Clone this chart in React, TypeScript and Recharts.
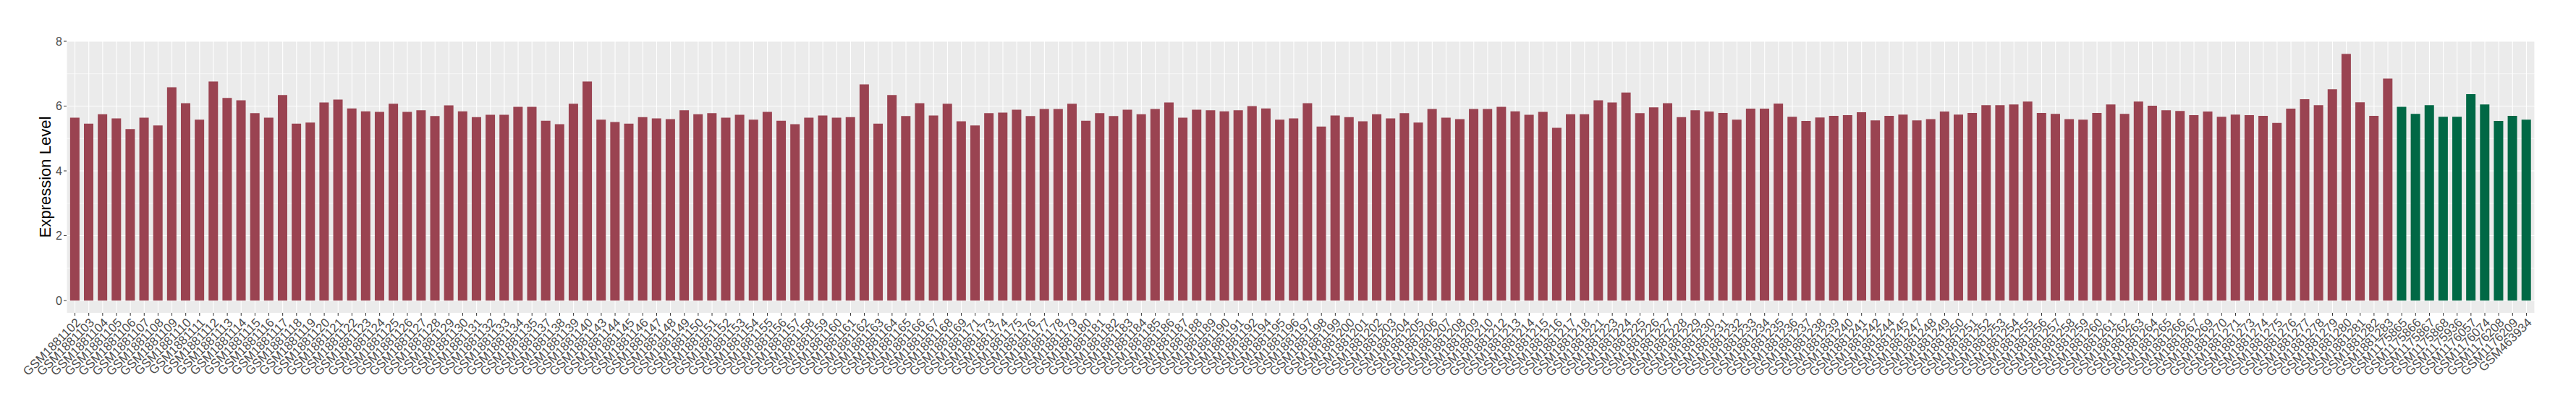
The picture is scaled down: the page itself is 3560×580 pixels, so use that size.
import React from "react";
import { Bar, BarChart, CartesianGrid, Cell, Label, XAxis, YAxis } from "recharts";

const tumourSamples = [
  "GSM1881102", "GSM1881103", "GSM1881104", "GSM1881105", "GSM1881106", "GSM1881107", "GSM1881108", "GSM1881109",
  "GSM1881110", "GSM1881111", "GSM1881112", "GSM1881113", "GSM1881114", "GSM1881115", "GSM1881116", "GSM1881117",
  "GSM1881118", "GSM1881119", "GSM1881120", "GSM1881121", "GSM1881122", "GSM1881123", "GSM1881124", "GSM1881125",
  "GSM1881126", "GSM1881127", "GSM1881128", "GSM1881129", "GSM1881130", "GSM1881131", "GSM1881132", "GSM1881133",
  "GSM1881134", "GSM1881135", "GSM1881137", "GSM1881138", "GSM1881139", "GSM1881140", "GSM1881143", "GSM1881144",
  "GSM1881145", "GSM1881146", "GSM1881147", "GSM1881148", "GSM1881149", "GSM1881150", "GSM1881151", "GSM1881152",
  "GSM1881153", "GSM1881154", "GSM1881155", "GSM1881156", "GSM1881157", "GSM1881158", "GSM1881159", "GSM1881160",
  "GSM1881161", "GSM1881162", "GSM1881163", "GSM1881164", "GSM1881165", "GSM1881166", "GSM1881167", "GSM1881168",
  "GSM1881169", "GSM1881171", "GSM1881173", "GSM1881174", "GSM1881175", "GSM1881176", "GSM1881177", "GSM1881178",
  "GSM1881179", "GSM1881180", "GSM1881181", "GSM1881182", "GSM1881183", "GSM1881184", "GSM1881185", "GSM1881186",
  "GSM1881187", "GSM1881188", "GSM1881189", "GSM1881190", "GSM1881191", "GSM1881192", "GSM1881194", "GSM1881195",
  "GSM1881196", "GSM1881197", "GSM1881198", "GSM1881199", "GSM1881200", "GSM1881201", "GSM1881202", "GSM1881203",
  "GSM1881204", "GSM1881205", "GSM1881206", "GSM1881207", "GSM1881208", "GSM1881209", "GSM1881210", "GSM1881212",
  "GSM1881213", "GSM1881214", "GSM1881215", "GSM1881216", "GSM1881217", "GSM1881218", "GSM1881221", "GSM1881223",
  "GSM1881224", "GSM1881225", "GSM1881226", "GSM1881227", "GSM1881228", "GSM1881229", "GSM1881230", "GSM1881231",
  "GSM1881232", "GSM1881233", "GSM1881234", "GSM1881235", "GSM1881236", "GSM1881237", "GSM1881238", "GSM1881239",
  "GSM1881240", "GSM1881241", "GSM1881242", "GSM1881244", "GSM1881245", "GSM1881247", "GSM1881248", "GSM1881249",
  "GSM1881250", "GSM1881251", "GSM1881252", "GSM1881253", "GSM1881254", "GSM1881255", "GSM1881256", "GSM1881257",
  "GSM1881258", "GSM1881259", "GSM1881260", "GSM1881261", "GSM1881262", "GSM1881263", "GSM1881264", "GSM1881265",
  "GSM1881266", "GSM1881267", "GSM1881269", "GSM1881270", "GSM1881271", "GSM1881273", "GSM1881274", "GSM1881275",
  "GSM1881276", "GSM1881277", "GSM1881278", "GSM1881279", "GSM1881280", "GSM1881281", "GSM1881282", "GSM1881283",
];

const tumourValues = [
  5.64, 5.46, 5.75, 5.62, 5.29, 5.64, 5.4, 6.58, 6.09, 5.58, 6.76, 6.25, 6.18, 5.78, 5.64, 6.34,
  5.46, 5.49, 6.11, 6.2, 5.93, 5.84, 5.82, 6.07, 5.82, 5.87, 5.69, 6.02, 5.84, 5.66, 5.73, 5.73,
  5.98, 5.98, 5.55, 5.44, 6.07, 6.76, 5.58, 5.51, 5.46, 5.66, 5.62, 5.6, 5.87, 5.75, 5.78, 5.64,
  5.73, 5.58, 5.82, 5.55, 5.44, 5.64, 5.71, 5.64, 5.66, 6.67, 5.46, 6.34, 5.69, 6.09, 5.71, 6.07,
  5.53, 5.4, 5.78, 5.8, 5.89, 5.69, 5.91, 5.91, 6.07, 5.55, 5.78, 5.69, 5.89, 5.75, 5.91, 6.11,
  5.64, 5.89, 5.87, 5.84, 5.87, 6.0, 5.93, 5.58, 5.62, 6.09, 5.37, 5.71, 5.66, 5.53, 5.75, 5.62,
  5.78, 5.49, 5.91, 5.64, 5.6, 5.91, 5.91, 5.98, 5.84, 5.73, 5.82, 5.33, 5.75, 5.75, 6.18, 6.11,
  6.42, 5.78, 5.96, 6.09, 5.66, 5.87, 5.83, 5.79, 5.58, 5.92, 5.92, 6.08, 5.67, 5.54, 5.65, 5.7,
  5.72, 5.81, 5.56, 5.7, 5.74, 5.56, 5.6, 5.83, 5.74, 5.79, 6.03, 6.03, 6.05, 6.14, 5.79, 5.76,
  5.6, 5.58, 5.79, 6.05, 5.76, 6.14, 6.01, 5.87, 5.85, 5.72, 5.83, 5.67, 5.74, 5.72, 5.7, 5.48,
  5.92, 6.21, 6.03, 6.52, 7.61, 6.12, 5.7, 6.85,
];

const normalSamples = [
  "GSM1175865", "GSM1175866", "GSM1175867", "GSM1175868", "GSM1175936",
  "GSM1176057", "GSM1176074", "GSM1176208", "GSM1176209", "GSM463934",
];

const normalValues = [5.98, 5.76, 6.03, 5.67, 5.67, 6.37, 6.05, 5.54, 5.7, 5.58];

const yTicks = [0, 2, 4, 6, 8];
const yMinor = [1, 3, 5, 7];

const TUMOUR = "#9A4351";
const NORMAL = "#006845";
const FONT = "'Liberation Sans', Arial, Helvetica, sans-serif";

const data = [
  ...tumourSamples.map((name, i) => ({ name, value: tumourValues[i], fill: TUMOUR })),
  ...normalSamples.map((name, i) => ({ name, value: normalValues[i], fill: NORMAL })),
];

const XTick = ({ x, y, payload }: any) => (
  <text
    x={x}
    y={y}
    transform={`rotate(-45 ${x} ${y})`}
    textAnchor="end"
    dy="0.71em"
    fontSize={17}
    fontFamily={FONT}
    fill="#4D4D4D"
  >
    {payload.value}
  </text>
);

const YTick = ({ x, y, payload }: any) => (
  <text x={x} y={y} textAnchor="end" dy="0.355em" fontSize={16} fontFamily={FONT} fill="#4D4D4D">
    {payload.value}
  </text>
);

export default function App() {
  return (
    <div style={{ position: "absolute", left: 0, top: 0, background: "#fff" }}>
      <BarChart
        width={3560}
        height={580}
        data={data}
        margin={{ top: 57, right: 57, bottom: 0, left: 0 }}
        barCategoryGap="15%"
      >
        <CartesianGrid fill="#EBEBEB" stroke="#FFFFFF" strokeWidth={0.6} vertical={false} horizontalValues={yMinor} />
        <CartesianGrid stroke="#FFFFFF" strokeWidth={1.1} horizontalValues={yTicks} />
        <XAxis
          dataKey="name"
          interval={0}
          height={148}
          padding={{ left: 2, right: 2 }}
          tick={<XTick />}
          tickSize={4}
          tickLine={{ stroke: "#333333" }}
          axisLine={false}
        />
        <YAxis
          type="number"
          domain={[-0.38, 8]}
          ticks={yTicks}
          width={92}
          tick={<YTick />}
          tickSize={4}
          tickLine={{ stroke: "#333333" }}
          axisLine={false}
        >
          <Label
            content={() => (
              <text
                x={62}
                y={244.5}
                transform="rotate(-90 62 244.5)"
                textAnchor="middle"
                dominantBaseline="central"
                fontSize={22}
                fontFamily={FONT}
                fill="#000000"
              >
                Expression Level
              </text>
            )}
          />
        </YAxis>
        <Bar dataKey="value" isAnimationActive={false}>
          {data.map((d) => (
            <Cell key={d.name} fill={d.fill} />
          ))}
        </Bar>
      </BarChart>
    </div>
  );
}
